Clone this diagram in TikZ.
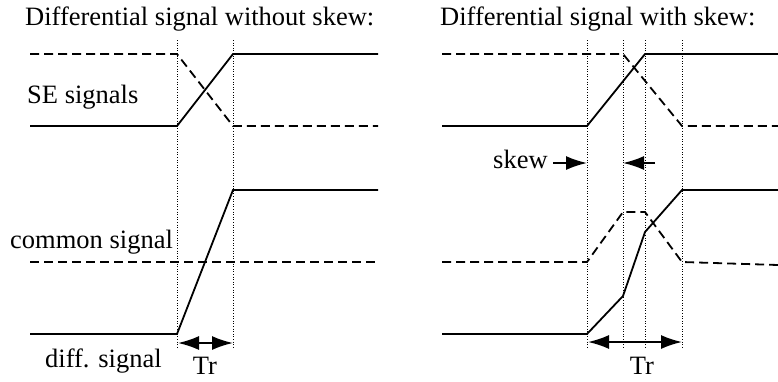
\documentclass[tikz,border=0pt]{standalone}
\usepackage{fontspec}
\setmainfont{Liberation Serif}
\usetikzlibrary{arrows.meta}

\begin{document}
\begin{tikzpicture}[
        x=1pt, y=-1pt,
        sig/.style={line width=1.8pt},
        ref/.style={line width=1.8pt, dash pattern=on 9pt off 5pt},
        guide/.style={line width=1pt, dash pattern=on 1pt off 1.6pt},
        arrow/.style={-{Latex[length=21pt, width=14pt]}, line width=1.8pt},
        span/.style={{Latex[length=21pt, width=14pt]}-{Latex[length=21pt, width=14pt]}, line width=1.8pt},
        label/.style={font=\fontsize{26.5}{30}\selectfont, anchor=base west, inner sep=0pt}
    ]
    \useasboundingbox (0, 0) rectangle (778, 381);

    % Titles
    \node[label] (title1) at (25, 25) {Differential signal without skew:};
    \node[label] (title2) at (440, 25) {Differential signal with skew:};

    % Left: without skew
    \node[label] (se) at (27, 103) {SE signals};
    \node[label] (common) at (10, 248) {common signal};
    \node[label] (diff) at (45, 367) {diff. signal};

    \draw[guide] (177, 40) -- (177, 348);
    \draw[guide] (233, 40) -- (233, 348);

    \draw[ref] (30, 54) -- (177, 54) -- (233, 126) -- (378, 126);
    \draw[sig] (30, 126) -- (177, 126) -- (233, 54) -- (378, 54);
    \draw[ref] (30, 262) -- (378, 262);
    \draw[sig] (30, 334) -- (177, 334) -- (233, 190) -- (378, 190);

    \coordinate (tr1a) at (178, 343);
    \coordinate (tr1b) at (233, 343);
    \draw[span] (tr1a) -- (tr1b);
    \node[label, anchor=base, text depth=0pt] (tr1) at (205, 374) {Tr};

    % Right: with skew
    \foreach \x in {587, 623, 645, 682}
        \draw[guide] (\x, 40) -- (\x, 348);

    \draw[ref] (442, 54) -- (623, 54) -- (682, 126) -- (778, 126);
    \draw[sig] (442, 126) -- (587, 126) -- (645, 54) -- (778, 54);
    \draw[ref] (442, 262) -- (587, 262) -- (623, 212) -- (645, 212) -- (682, 262) -- (778, 265);
    \draw[sig] (442, 334) -- (587, 334) -- (623, 296) -- (645, 232) -- (682, 190) -- (778, 190);

    \node[label] (skew) at (493, 168) {skew};
    \coordinate (sk1) at (553, 163);
    \coordinate (sk1e) at (587, 163);
    \coordinate (sk2) at (655, 163);
    \coordinate (sk2e) at (623, 163);
    \draw[arrow] (sk1) -- (sk1e);
    \draw[arrow] (sk2) -- (sk2e);

    \coordinate (tr2a) at (588, 342);
    \coordinate (tr2b) at (682, 342);
    \draw[span] (tr2a) -- (tr2b);
    \node[label, anchor=base, text depth=0pt] (tr2) at (642, 374) {Tr};

\end{tikzpicture}
\end{document}
